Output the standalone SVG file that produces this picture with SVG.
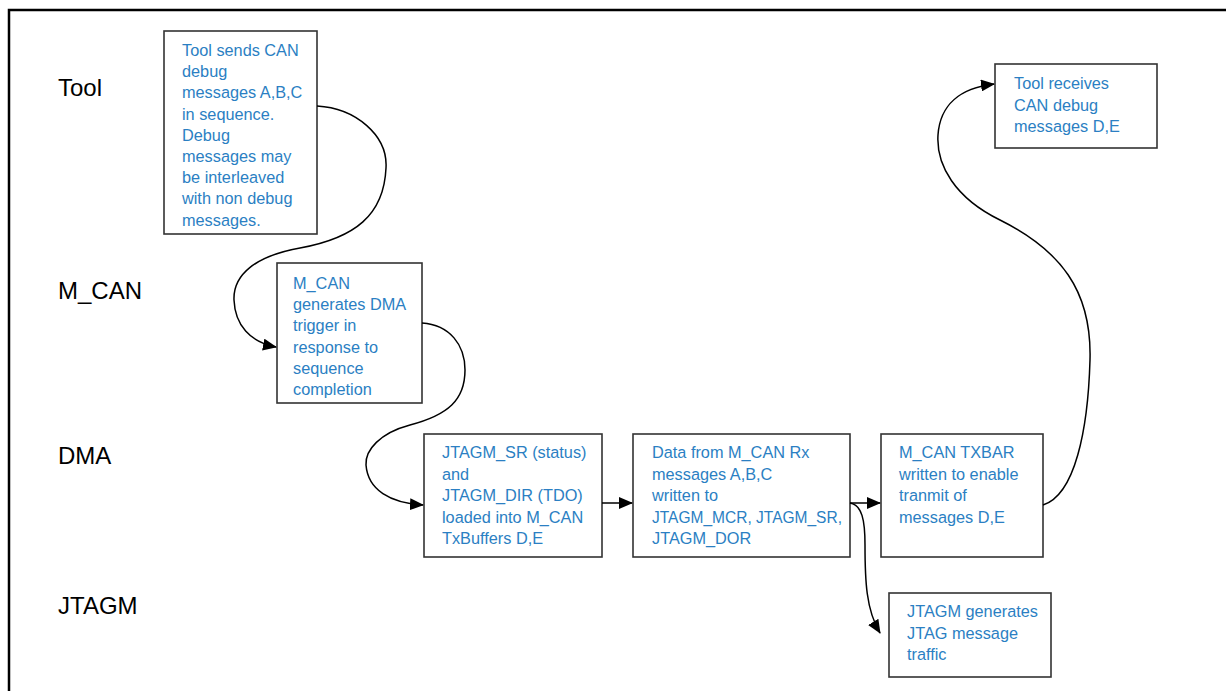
<svg xmlns="http://www.w3.org/2000/svg" width="1226" height="691" viewBox="0 0 1226 691">
<style>
.frame{fill:none;stroke:#000;stroke-width:2.5}
.box{fill:#fff;stroke:#333;stroke-width:1.6}
.t{font-family:"Liberation Sans",Arial,sans-serif;font-size:16.3px;fill:#2b7fc3}
.lbl{font-family:"Liberation Sans",Arial,sans-serif;font-size:24px;fill:#000}
.c{fill:none;stroke:#000;stroke-width:1.5}
</style>
<defs>
<marker id="ah" markerUnits="userSpaceOnUse" markerWidth="14" markerHeight="12" refX="13" refY="6" orient="auto">
<path d="M0,0 L14,6 L0,12 Z" fill="#000"/>
</marker>
</defs>
<rect width="1226" height="691" fill="#fff"/>
<rect class="frame" x="9" y="10" width="1240" height="700"/>
<g id="lanes">
<text class="lbl" x="58" y="96">Tool</text>
<text class="lbl" x="58" y="299">M_CAN</text>
<text class="lbl" x="58" y="464">DMA</text>
<text class="lbl" x="58" y="614">JTAGM</text>
</g>
<g id="tool-sends">
<rect class="box" x="164" y="31" width="153" height="203"/>
<text class="t" x="182" y="56">Tool sends CAN<tspan x="182" dy="21.2">debug</tspan><tspan x="182" dy="21.2">messages A,B,C</tspan><tspan x="182" dy="21.2">in sequence.</tspan><tspan x="182" dy="21.2">Debug</tspan><tspan x="182" dy="21.2">messages may</tspan><tspan x="182" dy="21.2">be interleaved</tspan><tspan x="182" dy="21.2">with non debug</tspan><tspan x="182" dy="21.2">messages.</tspan></text>
</g>
<g id="mcan-trigger">
<rect class="box" x="277" y="263" width="145" height="140"/>
<text class="t" x="293" y="289">M_CAN<tspan x="293" dy="21.2">generates DMA</tspan><tspan x="293" dy="21.2">trigger in</tspan><tspan x="293" dy="21.2">response to</tspan><tspan x="293" dy="21.2">sequence</tspan><tspan x="293" dy="21.2">completion</tspan></text>
</g>
<g id="dma-load">
<rect class="box" x="424" y="434" width="178" height="123"/>
<text class="t" x="442" y="458">JTAGM_SR (status)<tspan x="442" dy="21.5">and</tspan><tspan x="442" dy="21.5">JTAGM_DIR (TDO)</tspan><tspan x="442" dy="21.5">loaded into M_CAN</tspan><tspan x="442" dy="21.5">TxBuffers D,E</tspan></text>
</g>
<g id="dma-data">
<rect class="box" x="633" y="434" width="217" height="123"/>
<text class="t" x="652" y="458">Data from M_CAN Rx<tspan x="652" dy="21.5">messages A,B,C</tspan><tspan x="652" dy="21.5">written to</tspan><tspan x="652" dy="21.5" textLength="190" lengthAdjust="spacingAndGlyphs">JTAGM_MCR, JTAGM_SR,</tspan><tspan x="652" dy="21.5">JTAGM_DOR</tspan></text>
</g>
<g id="dma-txbar">
<rect class="box" x="881" y="434" width="162" height="123"/>
<text class="t" x="899" y="458">M_CAN TXBAR<tspan x="899" dy="21.5">written to enable</tspan><tspan x="899" dy="21.5">tranmit of</tspan><tspan x="899" dy="21.5">messages D,E</tspan></text>
</g>
<g id="jtagm-gen">
<rect class="box" x="889" y="593" width="162" height="84"/>
<text class="t" x="907" y="617">JTAGM generates<tspan x="907" dy="21.5">JTAG message</tspan><tspan x="907" dy="21.5">traffic</tspan></text>
</g>
<g id="tool-receives">
<rect class="box" x="995" y="64" width="162" height="84"/>
<text class="t" x="1014" y="89">Tool receives<tspan x="1014" dy="21.5">CAN debug</tspan><tspan x="1014" dy="21.5">messages D,E</tspan></text>
</g>
<g id="connectors">
<path class="c" marker-end="url(#ah)" d="M317,106 C355,108 388,135 386,168 C384,215 355,238 300,248 C255,256 233,275 234,300 C235,325 250,342 276,347"/>
<path class="c" marker-end="url(#ah)" d="M422,323 C450,325 465,345 465,370 C465,400 448,415 410,425 C380,433 365,450 366,465 C368,490 390,503 423,505"/>
<path class="c" marker-end="url(#ah)" d="M602,503 L632,503"/>
<path class="c" marker-end="url(#ah)" d="M850,503 L880,503"/>
<path class="c" marker-end="url(#ah)" d="M850,503 C862,505 865,520 865,545 C865,580 866,610 880,633"/>
<path class="c" marker-end="url(#ah)" d="M1043,505 C1075,495 1088,430 1090,360 C1092,290 1060,250 1000,220 C955,198 936,165 938,135 C940,105 960,88 994,84"/>
</g>
</svg>
